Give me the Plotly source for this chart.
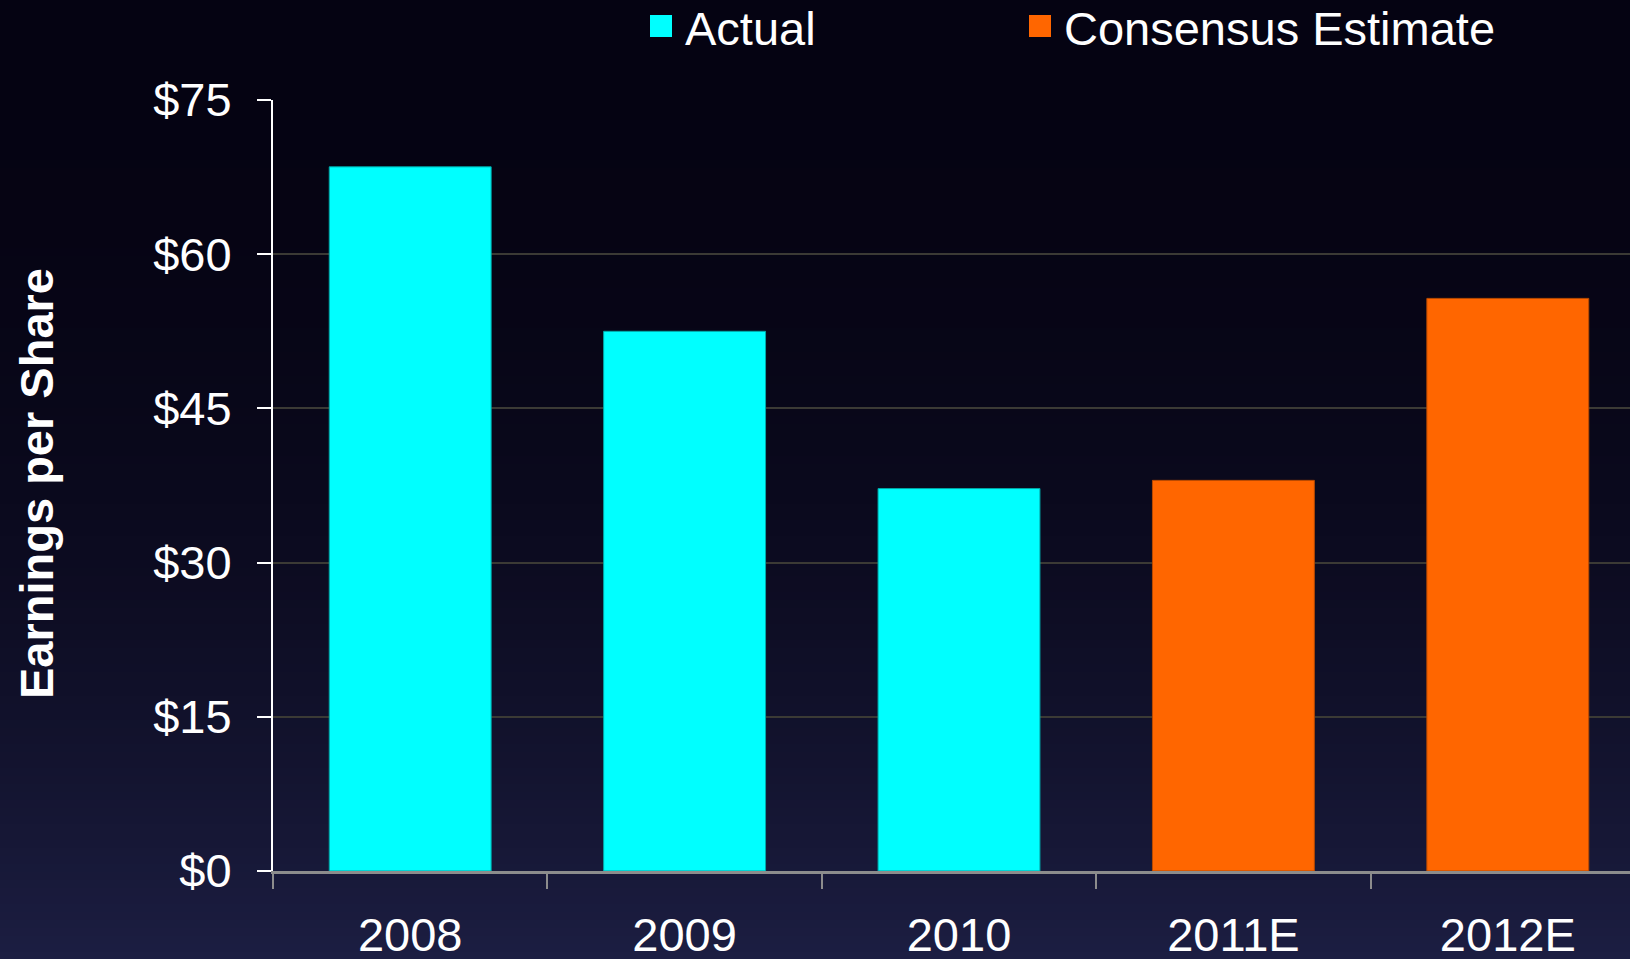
import plotly.graph_objects as go

# Earnings per share by year
actual_years = ["2008", "2009", "2010"]
actual_eps = [68.5, 52.5, 37.2]
estimate_years = ["2011E", "2012E"]
estimate_eps = [38.0, 55.7]
all_years = actual_years + estimate_years

series_names = ["Actual", "Consensus Estimate"]
series_colors = ["#00FFFF", "#FF6600"]
series_lines = ["#00A8A8", "#B84A00"]

y_ticks = [0, 15, 30, 45, 60, 75]
y_tick_text = ["$" + str(v) for v in y_ticks]

W, H = 1630, 959
M_L, M_R, M_T, M_B = 273, 0, 100, 88
PW = W - M_L - M_R
PH = H - M_T - M_B
FONT = "Liberation Sans, Arial, sans-serif"
FS = 47


def px_x(px):
    return (px - M_L) / PW


def px_y(py):
    return (H - M_B - py) / PH


fig = go.Figure()
fig.add_trace(go.Bar(
    x=actual_years, y=actual_eps, name=series_names[0], width=0.59,
    marker=dict(color=series_colors[0], line=dict(color=series_lines[0], width=1)),
    showlegend=False,
))
fig.add_trace(go.Bar(
    x=estimate_years, y=estimate_eps, name=series_names[1], width=0.59,
    marker=dict(color=series_colors[1], line=dict(color=series_lines[1], width=1)),
    showlegend=False,
))

# Background: vertical gradient from near-black to dark navy
shapes = []
top_c = (5, 3, 18)
bot_c = (28, 30, 66)
band = 8
for y0 in range(0, H, band):
    t = (y0 + band / 2) / H
    k = t ** 2.2
    c = tuple(int(round(a + (b - a) * k)) for a, b in zip(top_c, bot_c))
    shapes.append(dict(
        type="rect", xref="paper", yref="paper", layer="below",
        x0=px_x(-5), x1=px_x(W + 5), y0=px_y(y0 + band + 1), y1=px_y(y0),
        fillcolor="rgb(%d,%d,%d)" % c, line=dict(width=0),
    ))

# Legend swatches and labels
legend_swatch_x = [650, 1029]
legend_text_x = [683, 1062]
annotations = []
for name, col, sx, tx in zip(series_names, series_colors, legend_swatch_x, legend_text_x):
    shapes.append(dict(
        type="rect", xref="paper", yref="paper", layer="above",
        x0=px_x(sx), x1=px_x(sx + 22), y0=px_y(37), y1=px_y(15),
        fillcolor=col, line=dict(width=0),
    ))
    annotations.append(dict(
        text=name, xref="paper", yref="paper", x=px_x(tx), y=px_y(28),
        xanchor="left", yanchor="middle", showarrow=False,
        font=dict(family=FONT, size=FS, color="white"),
    ))

annotations.append(dict(
    text="<b>Earnings per Share</b>", xref="paper", yref="paper",
    x=px_x(36), y=px_y(484), xanchor="center", yanchor="middle",
    textangle=-90, showarrow=False,
    font=dict(family=FONT, size=FS, color="white"),
))

fig.update_layout(
    width=W, height=H, autosize=False,
    margin=dict(l=M_L, r=M_R, t=M_T, b=M_B, pad=0, autoexpand=False),
    paper_bgcolor="#141530", plot_bgcolor="rgba(0,0,0,0)",
    barmode="overlay", bargap=0.41,
    shapes=shapes, annotations=annotations,
    font=dict(family=FONT, size=FS, color="white"),
)
fig.update_xaxes(
    type="category", categoryorder="array", categoryarray=all_years,
    range=[-0.5, -0.5 + PW / 274.4], automargin=False,
    showline=True, linecolor="#8C8C8C", linewidth=3,
    ticks="outside", ticklen=15, tickwidth=2, tickcolor="#8C8C8C",
    tickson="boundaries", showgrid=False, zeroline=False,
    tickfont=dict(family=FONT, size=FS, color="white"),
    ticklabelstandoff=21,
)
fig.update_yaxes(
    range=[0, 75], tickvals=y_ticks, ticktext=y_tick_text, automargin=False,
    showline=True, linecolor="white", linewidth=2,
    ticks="outside", ticklen=14, tickwidth=2, tickcolor="white",
    showgrid=True, gridcolor="#3B3A35", gridwidth=2, zeroline=False,
    tickfont=dict(family=FONT, size=FS, color="white"),
    ticklabelstandoff=16,
)

fig.write_html("out.html")
